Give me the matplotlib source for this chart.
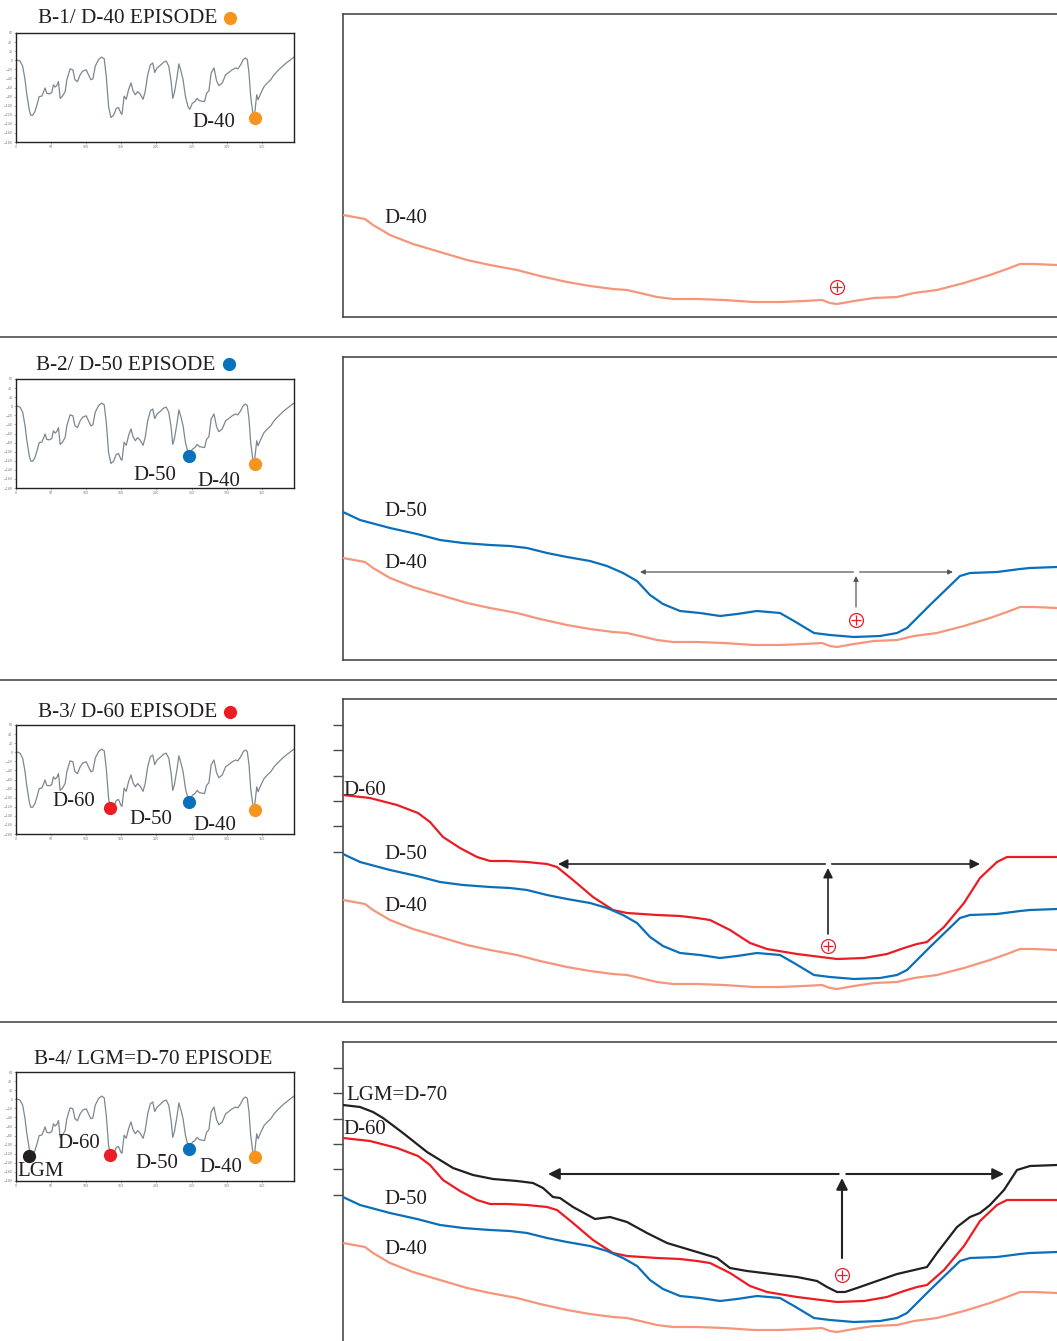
import matplotlib
matplotlib.use('Agg')
import matplotlib.pyplot as plt

W, H = 1057, 1341

# ---------------- data ----------------
# sea-level curve shown in the small insets (age in ka, level in m)
sl_age = [0, 5.7, 9.5, 12.9, 15.2, 19, 21, 23.8, 27, 30.5, 33, 36.7, 39, 41.4, 43.8, 47.6, 51,
          53.3, 55.7, 58, 60.5, 62.9, 65.7, 70, 72.4, 77, 81, 84, 87.6, 91.4, 95, 100, 103.3,
          106.7, 109.5, 112.9, 117.6, 122, 125.7, 128.6, 131.9, 135.2, 139, 142.9, 146, 149.5,
          151, 154, 157, 160.5, 163.8, 166.7, 170, 173.3, 177, 181, 184, 187.6, 191.4, 194.8,
          197.6, 201, 205.7, 210.5, 214, 217.6, 221, 223.3, 225.7, 229.5, 232, 235, 238, 241.4,
          245, 247.6, 251, 254.8, 258, 261.4, 265, 268.6, 271.4, 274.8, 278, 282, 285.7, 289,
          293.8, 298.6, 303, 308, 312.9, 316, 320, 323.8, 327, 329.5, 331.9, 334.3, 337.6, 340,
          342.9, 344.8, 348.6, 353.3, 358, 362.9, 367.6, 372.4, 377, 381.9, 386.7, 391.4, 396]
sl_level = [1.5, -2, -13, -43, -73, -110, -121, -121, -113, -95, -80, -79, -71, -61, -73, -74, -71,
            -54, -59, -56, -47, -84, -80, -69, -43, -19, -21, -43, -47, -32, -24, -21, -32,
            -43, -41, -13, 1.5, 7, 3, -36, -102, -126, -121, -106, -104, -117,
            -119, -79, -86, -64, -50, -67, -76, -69, -75, -86, -69, -32, -10, -6,
            -27, -17, -11, -4, -2, -13, -47, -84, -71, -36, -8, -24, -43, -80,
            -102, -108, -95, -91, -84, -89, -90, -91, -73, -67, -28, -17, -45, -56,
            -50, -32, -27, -21, -17, -19, -10, 1.5, 5, 1.5, -28, -80, -119, -117,
            -76, -87, -73, -58, -50, -43, -32, -24, -17, -10, -4, 1.5, 7]

episode_names = ['LGM', 'D-60', 'D-50', 'D-40']
episode_age = [18, 134, 246, 340]
episode_level = [-124, -122, -110, -127]

# cross-section profiles (distance, depth below top of frame)
d40_x = [0, 22, 30, 47, 70, 97, 124, 147, 174, 197, 224, 247, 270, 284, 297, 314, 330, 354, 381,
         411, 437, 461, 479, 487, 494, 511, 531, 554, 571, 594, 621, 647, 664, 677, 691, 714]
d40_y = [201, 205, 211, 221, 230, 238, 246, 251, 256, 262, 268, 272, 275, 276, 279, 283, 285, 285,
         286, 288, 288, 287, 286, 289, 290, 287, 284, 283, 279, 276, 269, 261, 255, 250, 250, 251]

d50_x = [0, 17, 47, 74, 97, 120, 147, 167, 184, 204, 224, 247, 264, 280, 294, 307, 320, 337, 357,
         377, 394, 414, 437, 451, 471, 487, 511, 537, 554, 564, 587, 617, 627, 654, 677, 687, 714]
d50_y = [155, 163, 171, 177, 183, 186, 188, 189, 191, 196, 200, 204, 209, 216, 224, 238, 247, 254,
         256, 259, 257, 254, 256, 264, 276, 278, 280, 279, 276, 271, 248, 219, 216, 215, 212, 211, 210]

d60_x = [0, 27, 54, 75, 87, 100, 117, 134, 147, 164, 184, 204, 214, 230, 250, 270, 284, 314, 337,
         354, 367, 387, 407, 424, 454, 494, 521, 544, 561, 574, 584, 601, 621, 637, 654, 664, 714]
d60_y = [96, 99, 106, 114, 123, 138, 149, 158, 162, 162, 163, 165, 168, 181, 198, 211, 214, 216, 217,
         219, 221, 231, 244, 250, 255, 260, 259, 255, 249, 245, 243, 228, 204, 179, 163, 158, 158]

d70_x = [0, 17, 30, 40, 60, 84, 110, 130, 150, 174, 190, 200, 210, 217, 230, 252, 267, 284, 304,
         324, 354, 374, 387, 404, 437, 454, 474, 484, 494, 502, 514, 534, 554, 567, 584, 594, 614,
         627, 637, 647, 661, 674, 687, 714]
d70_y = [63, 65, 70, 76, 91, 110, 126, 133, 137, 139, 141, 146, 155, 156, 165, 177, 175, 180, 191,
         201, 210, 216, 226, 229, 233, 235, 239, 245, 250, 250, 246, 239, 232, 229, 225, 211, 185,
         175, 171, 163, 148, 128, 124, 123]

panel_titles = ['B-1/ D-40 EPISODE', 'B-2/ D-50 EPISODE', 'B-3/ D-60 EPISODE',
                'B-4/ LGM=D-70 EPISODE']

# ---------------- style ----------------
C40 = '#f5957a'
C50 = '#0a6fb8'
C60 = '#ec1c24'
C70 = '#231f20'
DOT = {'LGM': '#231f20', 'D-60': '#ec1c24', 'D-50': '#0a72bc', 'D-40': '#f7941d'}
SERIF = ['Liberation Serif', 'DejaVu Serif']

fig = plt.figure(figsize=(W / 100, H / 100), dpi=100)


def rect(x, y, w, h):
    return [x / W, 1 - (y + h) / H, w / W, h / H]


tops = [14, 357, 699, 1042]
inset_tops = [33, 379, 725, 1072]
profiles = [(d40_x, d40_y, C40), (d50_x, d50_y, C50), (d60_x, d60_y, C60), (d70_x, d70_y, C70)]

for i in range(4):
    ax = fig.add_axes(rect(343, tops[i], 714, 303))
    ax.set_xlim(0, 714)
    ax.set_ylim(303, 0)
    for s in ['top', 'left', 'bottom']:
        ax.spines[s].set_color('#4a4a4a')
        ax.spines[s].set_linewidth(1.2)
    ax.spines['right'].set_visible(False)
    ax.set_xticks([])
    if i >= 2:
        ax.set_yticks([26, 51, 77, 102, 127, 153])
        ax.tick_params(axis='y', direction='out', length=7, width=1, color='#4a4a4a',
                       labelleft=False)
    else:
        ax.set_yticks([])
    for k in range(i + 1):
        px, py, c = profiles[k]
        ax.plot(px, py, color=c, lw=1.6, zorder=3 + (3 - k),
                solid_joinstyle='round', solid_capstyle='round')

    # arrows and drilling symbol
    if i == 0:
        cx, cy = 494, 273
    elif i == 1:
        ax.annotate('', xy=(610, 215), xytext=(297, 215),
                    arrowprops=dict(arrowstyle='<|-|>', color='#555555', lw=0.9,
                                    mutation_scale=7, shrinkA=0, shrinkB=0))
        ax.annotate('', xy=(513, 219), xytext=(513, 250),
                    arrowprops=dict(arrowstyle='-|>', color='#555555', lw=0.9,
                                    mutation_scale=7, shrinkA=0, shrinkB=0))
        ax.plot([513], [215], 'o', ms=3, color='white', zorder=6)
        cx, cy = 513, 263
    elif i == 2:
        ax.annotate('', xy=(637, 165), xytext=(215, 165),
                    arrowprops=dict(arrowstyle='<|-|>', color='#222222', lw=1.2,
                                    mutation_scale=14, shrinkA=0, shrinkB=0))
        ax.annotate('', xy=(485, 169), xytext=(485, 235),
                    arrowprops=dict(arrowstyle='-|>', color='#222222', lw=1.2,
                                    mutation_scale=14, shrinkA=0, shrinkB=0))
        ax.plot([485], [165], 'o', ms=3, color='white', zorder=6)
        cx, cy = 485, 247
    else:
        ax.annotate('', xy=(661, 132), xytext=(205, 132),
                    arrowprops=dict(arrowstyle='<|-|>', color='#222222', lw=1.5,
                                    mutation_scale=17, shrinkA=0, shrinkB=0))
        ax.annotate('', xy=(499, 136), xytext=(499, 216),
                    arrowprops=dict(arrowstyle='-|>', color='#222222', lw=1.5,
                                    mutation_scale=17, shrinkA=0, shrinkB=0))
        ax.plot([499], [132], 'o', ms=3.5, color='white', zorder=6)
        cx, cy = 499, 233
    ax.plot([cx], [cy], 'o', ms=10, mfc='white', mec=C60, mew=0.9, zorder=7)
    ax.plot([cx], [cy], '+', ms=7, color=C60, mew=0.9, zorder=8)

    # inset sea-level curve
    ia = fig.add_axes(rect(16, inset_tops[i], 278, 109))
    ia.plot(sl_age, sl_level, color='#7d8790', lw=0.9)
    ia.set_xlim(0, 396)
    ia.set_ylim(-180, 60)
    ia.set_xticks(range(0, 400, 50))
    ia.set_yticks(range(-180, 61, 20))
    ia.tick_params(labelsize=2.3, length=1.5, width=0.4, pad=1, colors='#777777')
    for s in ia.spines.values():
        s.set_color('#222222')
        s.set_linewidth(1.0)
    shown = episode_names[3 - i:]
    for nm in shown:
        j = episode_names.index(nm)
        ia.plot([episode_age[j]], [episode_level[j]], 'o', ms=8.5, color=DOT[nm],
                zorder=5, clip_on=False)

# separators
for y in [337, 680, 1022]:
    fig.add_artist(plt.Line2D([0, 1], [1 - y / H, 1 - y / H], color='#666666', lw=1.4))

# overlay for text
ov = fig.add_axes([0, 0, 1, 1], zorder=20)
ov.set_xlim(0, W)
ov.set_ylim(H, 0)
ov.axis('off')
ov.patch.set_alpha(0)


def t(x, y, s, ha='left', fs=15):
    ov.text(x, y, s, ha=ha, va='center', fontsize=fs, family=SERIF, color='#231f20')


# titles
title_pos = [(38, 18), (36, 365), (38, 712), (34, 1059)]
title_dot = [(230, 18, 'D-40'), (229, 364, 'D-50'), (230, 712, 'D-60'), None]
for k in range(4):
    t(title_pos[k][0], title_pos[k][1], panel_titles[k], fs=15.3)
    if title_dot[k] is not None:
        ov.plot([title_dot[k][0]], [title_dot[k][1]], 'o', ms=8.5, color=DOT[title_dot[k][2]])

# inset labels
t(214, 122, 'D-40', 'center')
t(155, 475, 'D-50', 'center')
t(219, 481, 'D-40', 'center')
t(74, 801, 'D-60', 'center')
t(151, 819, 'D-50', 'center')
t(215, 825, 'D-40', 'center')
t(79, 1144, 'D-60', 'center')
t(41, 1171, 'LGM', 'center')
t(157, 1163, 'D-50', 'center')
t(221, 1168, 'D-40', 'center')

# profile labels
t(384, 218, 'D-40')
t(384, 511, 'D-50')
t(384, 563, 'D-40')
t(343, 790, 'D-60')
t(384, 854, 'D-50')
t(384, 906, 'D-40')
t(346, 1095, 'LGM=D-70')
t(343, 1130, 'D-60')
t(384, 1200, 'D-50')
t(384, 1249, 'D-40')

fig.savefig('out.png', dpi=100)
